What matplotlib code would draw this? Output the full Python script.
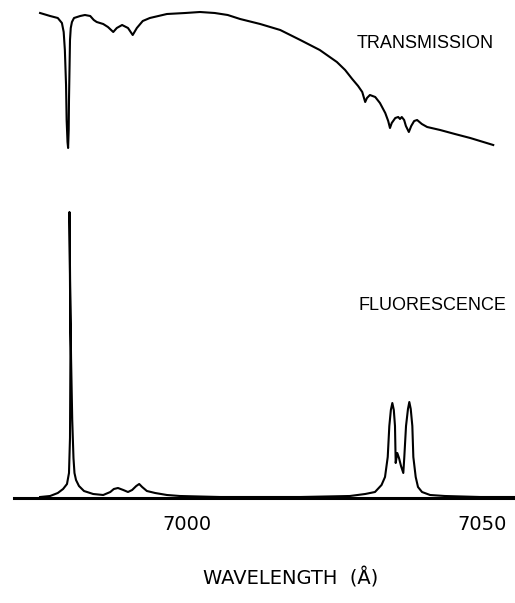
import matplotlib
matplotlib.use("Agg")
import matplotlib.pyplot as plt

# Transmission trace (wavelength in Angstrom, relative transmission a.u.)
trans_wl = [6975.1, 6976.8, 6978.1, 6978.8, 6979.1, 6979.3, 6979.5, 6979.6, 6979.75,
            6979.85, 6979.95, 6980.0, 6980.1, 6980.17, 6980.3, 6980.5, 6980.85, 6981.9,
            6982.7, 6983.6, 6984.2, 6984.7, 6985.8, 6986.6, 6987.5, 6988.1, 6989.0,
            6990.0, 6990.8, 6991.5, 6992.5, 6993.7, 6996.6, 6999.7, 7002.2, 7004.7,
            7006.9, 7009.0, 7012.4, 7015.8, 7019.2, 7022.5, 7025.4, 7026.8, 7028.0,
            7029.0, 7029.7, 7030.2, 7030.5, 7031.0, 7031.9, 7032.7, 7033.6, 7034.1,
            7034.4, 7034.7, 7035.3, 7035.8, 7036.1, 7036.4, 7036.8, 7037.1, 7037.6,
            7038.0, 7038.5, 7039.0, 7039.8, 7040.7, 7042.9, 7045.4, 7048.0, 7051.9]
trans_val = [147, 144, 142, 137, 128, 110, 75, 40, 18,
             12, 30, 60, 95, 120, 132, 138, 142, 144,
             145, 144, 140, 138, 136, 133, 128, 132, 135,
             132, 125, 132, 139, 142, 146, 147, 148, 147,
             145, 141, 136, 130, 120, 110, 98, 90, 81,
             74, 68, 58, 62, 65, 63, 57, 47, 39,
             32, 37, 42, 43, 41, 43, 40, 34, 28,
             34, 39, 40, 36, 33, 30, 26, 22, 15]

# Fluorescence trace (wavelength in Angstrom, relative intensity a.u.)
fluor_wl = [6975.1, 6976.8, 6978.1, 6979.0, 6979.66, 6980.0, 6980.17, 6980.25, 6980.08,
            6980.2, 6980.35, 6980.55, 6980.76, 6980.93, 6981.19, 6981.69, 6982.54,
            6984.1, 6985.8, 6987.0, 6987.6, 6988.3, 6989.2, 6990.0, 6990.7, 6991.4,
            6991.9, 6992.4, 6993.2, 6994.6, 6996.6, 6998.8, 7005.6, 7019.2, 7027.6,
            7030.2, 7031.86, 7032.97, 7033.56, 7034.02, 7034.29, 7034.55, 7034.8, 7035.05,
            7035.25, 7035.37, 7035.64, 7035.93, 7036.27, 7036.66, 7036.83, 7037.12, 7037.45,
            7037.68, 7037.92, 7038.19, 7038.36, 7038.76, 7039.15, 7039.83, 7041.2, 7043.7,
            7049.7, 7055.6]
fluor_val = [1, 2, 5, 9, 14, 25, 60, 150, 286,
             210, 140, 78, 40, 25, 18, 12, 7,
             4, 3, 6, 9, 10, 8, 6, 8, 12,
             14, 11, 7, 5, 3, 2, 1, 1, 2,
             4, 6, 13, 21, 41, 72, 88, 95, 88,
             72, 35, 45, 40, 32, 25, 41, 72, 89,
             96, 89, 72, 41, 21, 11, 6, 3, 2,
             1, 1]

tick_vals = [7000, 7050]
tick_labels = ["7000", "7050"]

W, H = 515, 603
fig = plt.figure(figsize=(W / 100, H / 100), dpi=100)
xl = (6970.68, 7055.59)
left = 14 / W
width = 1 - left

ax_t = fig.add_axes([left, (H - 160) / H, width, 160 / H])
ax_t.plot(trans_wl, trans_val, color="black", lw=1.5)
ax_t.set_xlim(*xl)
ax_t.set_ylim(0, 160)
ax_t.axis("off")

ax_f = fig.add_axes([left, (H - 498) / H, width, 298 / H])
ax_f.plot(fluor_wl, fluor_val, color="black", lw=1.5)
ax_f.set_xlim(*xl)
ax_f.set_ylim(0, 298)
for s in ["top", "left", "right"]:
    ax_f.spines[s].set_visible(False)
ax_f.spines["bottom"].set_linewidth(2.2)
ax_f.set_yticks([])
ax_f.set_xticks(tick_vals)
ax_f.set_xticklabels(tick_labels, fontsize=14, family="DejaVu Sans")
ax_f.tick_params(axis="x", length=0, pad=12)

fig.text(357 / W, 1 - 44 / H, "TRANSMISSION", fontsize=13, family="Liberation Sans",
         ha="left", va="center")
fig.text(358 / W, 1 - 306 / H, "FLUORESCENCE", fontsize=13, family="Liberation Sans",
         ha="left", va="center")
fig.text(291 / W, 1 - 578 / H, "WAVELENGTH  (Å)", fontsize=14, family="DejaVu Sans",
         ha="center", va="center")

fig.savefig("out.png", dpi=100)
